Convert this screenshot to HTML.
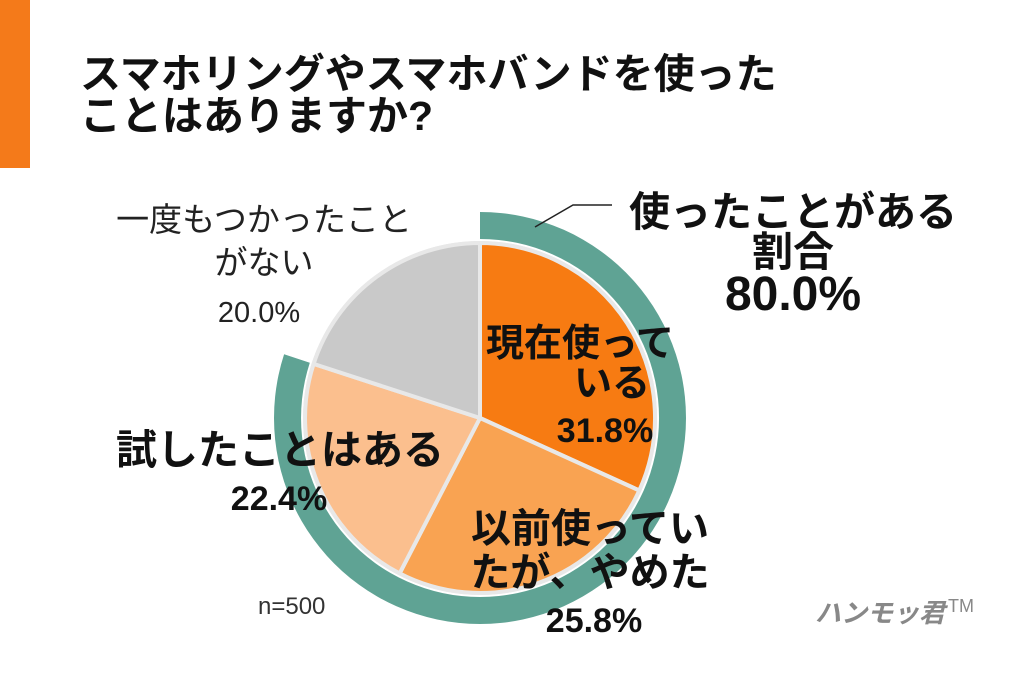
<!DOCTYPE html>
<html><head><meta charset="utf-8"><style>
body{margin:0;width:1024px;height:668px;background:#fff;overflow:hidden;font-family:"Liberation Sans","Noto Sans CJK JP",sans-serif}
</style></head><body>
<svg width="1024" height="668" xmlns="http://www.w3.org/2000/svg" font-family="Liberation Sans, Noto Sans CJK JP, sans-serif">
<rect x="0" y="0" width="30" height="168" fill="#f47a1a"/>
<text x="80" y="88" font-size="41" font-weight="bold" fill="#111">スマホリングやスマホバンドを使った</text>
<text x="80" y="130" font-size="41" font-weight="bold" fill="#111">ことはありますか?</text>
<path d="M480,212 A206,206 0 1 1 284.1,354.3 L309.8,362.7 A179,179 0 1 0 480,239 Z" fill="#5fa394"/>
<circle cx="480" cy="418" r="177" fill="#e8e8e8"/>
<g stroke="#e8e8e8" stroke-width="4" stroke-linejoin="round">
<path d="M480,418 L480,243 A175,175 0 0 1 639.3,490.5 Z" fill="#f77b12"/>
<path d="M480,418 L639.3,490.5 A175,175 0 0 1 399.6,573.4 Z" fill="#f9a352"/>
<path d="M480,418 L399.6,573.4 A175,175 0 0 1 313.6,363.9 Z" fill="#fbbf8e"/>
<path d="M480,418 L313.6,363.9 A175,175 0 0 1 480,243 Z" fill="#c9c9c9"/>
</g>
<polyline points="535,227 573,205 612,205" fill="none" stroke="#222" stroke-width="1.5"/>
<g font-weight="bold" fill="#111" text-anchor="middle">
<text x="793" y="226" font-size="41">使ったことがある</text>
<text x="793" y="266" font-size="41">割合</text>
<text x="793" y="310" font-size="48">80.0%</text>
<text x="580" y="356" font-size="38">現在使って</text>
<text x="612" y="396" font-size="38">いる</text>
<text x="605" y="442" font-size="34">31.8%</text>
<text x="280" y="464" font-size="41">試したことはある</text>
<text x="279" y="510" font-size="34">22.4%</text>
<text x="590" y="542" font-size="40">以前使ってい</text>
<text x="590" y="586" font-size="40">たが、やめた</text>
<text x="594" y="632" font-size="34">25.8%</text>
</g>
<g fill="#222" text-anchor="middle">
<text x="264" y="231" font-size="33">一度もつかったこと</text>
<text x="264" y="274" font-size="33">がない</text>
<text x="259" y="322" font-size="29">20.0%</text>
</g>
<text x="258" y="614" font-size="24" fill="#333">n=500</text>
<text x="815" y="622" font-size="26" font-weight="bold" fill="#888" font-style="italic">ハンモッ君</text>
<text x="948" y="612" font-size="18" fill="#888">TM</text>
</svg>
</body></html>
